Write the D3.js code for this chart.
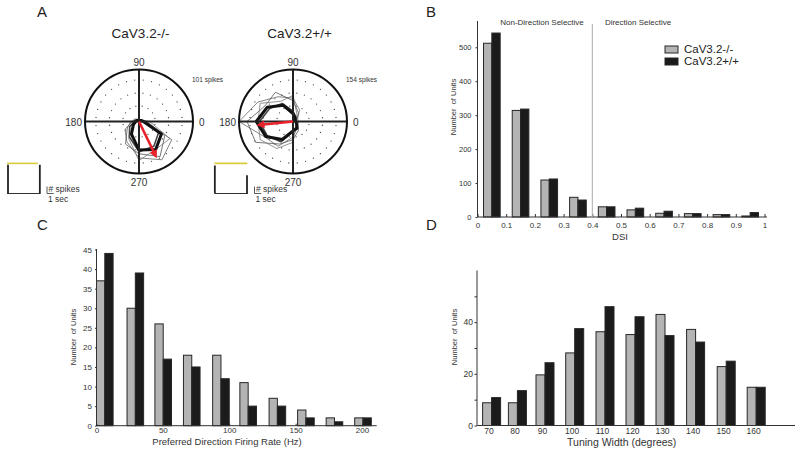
<!DOCTYPE html>
<html><head><meta charset="utf-8">
<script src="https://cdn.jsdelivr.net/npm/d3@7"></script>
<style>
body{margin:0;background:#fff;}
svg{display:block;font-family:"Liberation Sans",Arial,Helvetica,sans-serif;}
</style></head><body>
<svg id="fig" width="800" height="453"></svg>
<script>
// ================= DATA =================
const groups = ["CaV3.2-/-", "CaV3.2+/+"];

// Panel A: polar tuning curves (normalised response at 12 directions)
const directions = [0,30,60,90,120,150,180,210,240,270,300,330];
const spikeMax = [101, 154];
const koThick  = [0.08,0.04,0.02,0.02,0.02,0.04,0.06,0.12,0.28,0.55,0.62,0.48];
const koMedium = [0.10,0.05,0.03,0.03,0.03,0.06,0.08,0.20,0.35,0.58,0.55,0.42];
const koThin1  = [0.12,0.05,0.03,0.03,0.05,0.10,0.12,0.30,0.45,0.70,0.85,0.70];
const koThin2  = [0.15,0.05,0.02,0.02,0.02,0.05,0.15,0.25,0.50,0.62,0.78,0.55];
const koThin3  = [0.20,0.06,0.03,0.03,0.04,0.08,0.10,0.20,0.38,0.75,0.62,0.66];
const wtThick  = [0.05,0.05,0.08,0.15,0.36,0.55,0.68,0.58,0.40,0.18,0.15,0.08];
const wtMedium = [0.06,0.06,0.10,0.20,0.40,0.50,0.62,0.55,0.45,0.20,0.12,0.07];
const wtThin1  = [0.05,0.08,0.25,0.45,0.55,0.75,1.00,0.60,0.55,0.30,0.15,0.08];
const wtThin2  = [0.10,0.10,0.20,0.40,0.65,0.60,0.85,0.80,0.50,0.35,0.20,0.10];
const wtThin3  = [0.05,0.05,0.15,0.50,0.45,0.70,0.65,0.70,0.60,0.40,0.10,0.05];
const vectorAngle = [295, 186];
const vectorMag   = [0.78, 0.68];
const polarLabels = ["0","90","180","270"];

// Panel A insets: PSTH (time in s, counts)
const stimWindow = [[0, 4.6], [0, 4.9]];
const koSpikeTimes = [0.15, 4.9];
const koSpikeCounts = [4.1, 4.1];
const wtSpikeTimes = [0.05, 4.85];
const wtSpikeCounts = [4.0, 2.6];

// Panel B: DSI histogram
const dsiBins = [0,0.1,0.2,0.3,0.4,0.5,0.6,0.7,0.8,0.9];
const dsiKO = [512,314,109,58,30,21,11,10,7,3];
const dsiWT = [542,318,112,50,30,26,17,10,7,13];
const dsiTicks = [0,0.1,0.2,0.3,0.4,0.5,0.6,0.7,0.8,0.9,1];
const dsiYTicks = [0,100,200,300,400,500];
const dsiThreshold = 0.4;

// Panel C: preferred direction firing rate
const rateBinStart = [0,23,44,65.5,87.5,108,130,151.5,173,194.5];
const rateKO = [37,30,26,18,18,11,7,4,2,2];
const rateWT = [44,39,17,15,12,5,5,2,1,2];
const rateXTicks = [0,50,100,150,200];
const rateYTicks = [0,5,10,15,20,25,30,35,40,45];

// Panel D: tuning width
const widthLabels = ["70","80","90","100","110","120","130","140","150","160"];
const widthBinStart = [72.3,80.9,90.1,100,110.1,120.1,130.1,140.3,150.5,160.5];
const widthKO = [8.8,8.8,19.6,28.1,36.3,35.2,43.0,37.2,22.8,14.8];
const widthWT = [10.8,13.5,24.3,37.5,46.0,42.1,34.8,32.3,24.9,14.8];
const widthYTicks = [0,10,20,30,40,50];
const widthYLabelled = [0,20,40];

// ================= STYLE =================
const GRAY = "#b4b4b4", BLACK = "#1b1b1b", EDGE = "#262626", TXT = "#333";
const svg = d3.select("#fig");

// panel letters
[["A",37,17],["B",426,17],["C",37,230],["D",426,230]].forEach(([t,x,y])=>{
  svg.append("text").attr("x",x).attr("y",y).attr("font-size",15).attr("fill","#222").text(t);
});

// ================= PANEL A =================
function polarPlot(idx, cx, cy, curves) {
  const g = svg.append("g").attr("transform",`translate(${cx},${cy})`);
  const rx = d3.scaleLinear().domain([0,1]).range([0,54]);
  const ry = d3.scaleLinear().domain([0,1]).range([0,52]);
  const rad = a => a*Math.PI/180;
  // dotted rings
  [0.3,0.55,0.8].forEach((rr,k)=>{
    const n = [16,24,32][k];
    for (let i=0;i<n;i++){
      const a = 2*Math.PI*(i+0.5)/n;
      g.append("circle").attr("cx",rx(rr)*Math.cos(a)).attr("cy",-ry(rr)*Math.sin(a))
        .attr("r",0.65).attr("fill","#444");
    }
  });
  const line = d3.line()
    .x((d,i)=>rx(d)*Math.cos(rad(directions[i])))
    .y((d,i)=>-ry(d)*Math.sin(rad(directions[i])))
    .curve(d3.curveLinearClosed);
  curves.forEach(c=>{
    g.append("path").attr("d",line(c.v)).attr("fill","none")
      .attr("stroke",c.color).attr("stroke-width",c.w).attr("stroke-linejoin","round");
  });
  // cross lines
  g.append("line").attr("x1",-rx(1)).attr("x2",rx(1)).attr("y1",0).attr("y2",0)
    .attr("stroke","#222").attr("stroke-width",2);
  g.append("line").attr("y1",-ry(1)).attr("y2",ry(1)).attr("x1",0).attr("x2",0)
    .attr("stroke","#222").attr("stroke-width",2);
  g.append("ellipse").attr("rx",rx(1)).attr("ry",ry(1)).attr("fill","none")
    .attr("stroke","#111").attr("stroke-width",2);
  // vector
  const a = rad(vectorAngle[idx]), m = vectorMag[idx];
  const ex = rx(m)*Math.cos(a), ey = -ry(m)*Math.sin(a);
  const L = Math.hypot(ex,ey), ux = ex/L, uy = ey/L;
  g.append("line").attr("x1",0).attr("y1",0).attr("x2",ex-ux*5).attr("y2",ey-uy*5)
    .attr("stroke","#e8212b").attr("stroke-width",2.6);
  const px = -uy, py = ux;
  g.append("path").attr("d",`M${ex},${ey}L${ex-ux*8+px*4},${ey-uy*8+py*4}L${ex-ux*8-px*4},${ey-uy*8-py*4}Z`)
    .attr("fill","#e8212b");
  // direction labels
  const lab = g.append("g").attr("font-size",10).attr("fill","#333");
  lab.append("text").attr("x",rx(1)+6).attr("y",4).text(polarLabels[0]);
  lab.append("text").attr("x",0).attr("y",-ry(1)-4).attr("text-anchor","middle").text(polarLabels[1]);
  lab.append("text").attr("x",-rx(1)-3).attr("y",4).attr("text-anchor","end").text(polarLabels[2]);
  lab.append("text").attr("x",0).attr("y",ry(1)+12).attr("text-anchor","middle").text(polarLabels[3]);
  g.append("text").attr("x",rx(1)-1).attr("y",-ry(1)+12.5).attr("font-size",6.5).attr("fill","#333")
    .text(spikeMax[idx]+" spikes");
}
const mk = (thin1,thin2,thin3,med,thick)=>[
  {v:thin1,color:"#666",w:0.8},{v:thin2,color:"#555",w:0.8},{v:thin3,color:"#777",w:0.8},
  {v:med,color:"#444",w:1.6},{v:thick,color:"#111",w:3}];
polarPlot(0, 139, 121.5, mk(koThin1,koThin2,koThin3,koMedium,koThick));
polarPlot(1, 293, 121.5, mk(wtThin1,wtThin2,wtThin3,wtMedium,wtThick));

// titles
svg.append("text").attr("x",140.5).attr("y",38).attr("text-anchor","middle").attr("font-size",13.5).attr("fill","#222").text(groups[0]);
svg.append("text").attr("x",299.5).attr("y",38).attr("text-anchor","middle").attr("font-size",13.5).attr("fill","#222").text(groups[1]);

// insets
function inset(x0, stim, times, counts) {
  const xs = d3.scaleLinear().domain([0,5]).range([x0, x0+33.5]);
  const ys = d3.scaleLinear().domain([0,4]).range([193.5, 165.5]);
  const g = svg.append("g");
  g.append("line").attr("x1",xs(stim[0])).attr("x2",xs(stim[1])).attr("y1",ys(4.3)).attr("y2",ys(4.3))
    .attr("stroke","#d8cc3a").attr("stroke-width",1.6);
  g.append("line").attr("x1",xs(0)).attr("x2",xs(5)).attr("y1",ys(0)).attr("y2",ys(0))
    .attr("stroke","#333").attr("stroke-width",1.2);
  times.forEach((t,i)=>{
    g.append("line").attr("x1",xs(t)).attr("x2",xs(t)).attr("y1",ys(0)).attr("y2",ys(counts[i]))
      .attr("stroke","#222").attr("stroke-width",1.8);
  });
  // scale bar: 1 sec, 1 count
  const sx = xs(5)+6.5;
  g.append("path").attr("d",`M${sx},${ys(1)}V${ys(0)}H${sx+(xs(1)-xs(0))}`)
    .attr("fill","none").attr("stroke","#333").attr("stroke-width",0.8);
  g.append("text").attr("x",sx+1.5).attr("y",ys(0)-2).attr("font-size",8.5).attr("fill","#333").text("# spikes");
  g.append("text").attr("x",sx+1).attr("y",ys(0)+8.5).attr("font-size",8.5).attr("fill","#333").text("1 sec");
}
inset(7, stimWindow[0], koSpikeTimes, koSpikeCounts);
inset(214.5, stimWindow[1], wtSpikeTimes, wtSpikeCounts);

// ================= helper for axes styling =================
function styleAxis(sel, fs) {
  sel.selectAll("path.domain").attr("stroke","#333").attr("stroke-width",1);
  sel.selectAll(".tick line").attr("stroke","#333");
  sel.selectAll("text").attr("font-size",fs).attr("fill",TXT).attr("font-family",null);
  sel.attr("font-family",null);
}

// ================= PANEL B =================
{
  const x = d3.scaleLinear().domain([0,1]).range([477.5,764.5]);
  const y = d3.scaleLinear().domain([0,500]).range([217,47.3]);
  const g = svg.append("g");
  const bw = x(0.029)-x(0);
  g.selectAll(".bko").data(dsiBins).join("rect")
    .attr("x",d=>x(d+0.021)).attr("width",bw)
    .attr("y",(d,i)=>y(dsiKO[i])).attr("height",(d,i)=>y(0)-y(dsiKO[i]))
    .attr("fill",GRAY).attr("stroke",EDGE).attr("stroke-width",1);
  g.selectAll(".bwt").data(dsiBins).join("rect")
    .attr("x",d=>x(d+0.05)).attr("width",bw)
    .attr("y",(d,i)=>y(dsiWT[i])).attr("height",(d,i)=>y(0)-y(dsiWT[i]))
    .attr("fill",BLACK).attr("stroke",EDGE).attr("stroke-width",1);
  const xa = g.append("g").attr("transform","translate(0,217)")
    .call(d3.axisBottom(x).tickValues(dsiTicks).tickFormat(d3.format("~g")).tickSizeInner(-3).tickSizeOuter(0).tickPadding(5));
  xa.select("path.domain").attr("d","M477.5,0H767");
  styleAxis(xa, 8);
  const ya = g.append("g").attr("transform","translate(477.5,0)")
    .call(d3.axisLeft(y).tickValues(dsiYTicks).tickSize(2).tickPadding(4));
  ya.select("path.domain").attr("d","M0,21V217");
  styleAxis(ya, 7.5);
  g.append("line").attr("x1",x(dsiThreshold)).attr("x2",x(dsiThreshold)).attr("y1",24).attr("y2",217)
    .attr("stroke","#aaa").attr("stroke-width",1);
  g.append("text").attr("x",542).attr("y",25).attr("text-anchor","middle").attr("font-size",8).attr("fill",TXT).text("Non-Direction Selective");
  g.append("text").attr("x",638).attr("y",25).attr("text-anchor","middle").attr("font-size",8).attr("fill",TXT).text("Direction Selective");
  g.append("text").attr("transform","translate(456,107) rotate(-90)").attr("text-anchor","middle")
    .attr("font-size",7.5).attr("fill",TXT).text("Number  of Units").style("white-space","pre");
  g.append("text").attr("x",620).attr("y",240).attr("text-anchor","middle").attr("font-size",9.5).attr("fill",TXT).text("DSI");
  // legend
  [[GRAY,53],[BLACK,65]].forEach(([c,yy],i)=>{
    g.append("rect").attr("x",665).attr("y",yy-7).attr("width",13).attr("height",7)
      .attr("fill",c).attr("stroke",EDGE).attr("stroke-width",1);
    g.append("text").attr("x",684).attr("y",yy).attr("font-size",11.5).attr("fill","#222").text(groups[i]);
  });
}

// ================= PANEL C =================
{
  const x = d3.scaleLinear().domain([0,200]).range([96.5,362]);
  const y = d3.scaleLinear().domain([0,45]).range([425.7,249.5]);
  const g = svg.append("g");
  const bw = 8.3;
  g.selectAll(".cko").data(rateBinStart).join("rect")
    .attr("x",d=>x(d)).attr("width",bw)
    .attr("y",(d,i)=>y(rateKO[i])).attr("height",(d,i)=>y(0)-y(rateKO[i]))
    .attr("fill",GRAY).attr("stroke",EDGE).attr("stroke-width",1);
  g.selectAll(".cwt").data(rateBinStart).join("rect")
    .attr("x",d=>x(d)+bw).attr("width",bw)
    .attr("y",(d,i)=>y(rateWT[i])).attr("height",(d,i)=>y(0)-y(rateWT[i]))
    .attr("fill",BLACK).attr("stroke",EDGE).attr("stroke-width",1);
  const xa = g.append("g").attr("transform","translate(0,425.7)")
    .call(d3.axisBottom(x).tickValues(rateXTicks).tickSizeInner(-2).tickSizeOuter(0).tickPadding(2));
  xa.select("path.domain").attr("d","M96.5,0H376.7");
  styleAxis(xa, 8);
  const ya = g.append("g").attr("transform","translate(96.5,0)")
    .call(d3.axisLeft(y).tickValues(rateYTicks).tickSize(1.5).tickPadding(3));
  ya.select("path.domain").attr("d","M0,249V425.7");
  styleAxis(ya, 8);
  g.append("text").attr("transform","translate(76,337) rotate(-90)").attr("text-anchor","middle")
    .attr("font-size",7.5).attr("fill",TXT).text("Number  of Units").style("white-space","pre");
  g.append("text").attr("x",227).attr("y",445).attr("text-anchor","middle").attr("font-size",9.5).attr("fill",TXT)
    .text("Preferred Direction Firing Rate (Hz)");
}

// ================= PANEL D =================
{
  const x = d3.scaleLinear().domain([100,200]).range([565.7,865.7]);
  const y = d3.scaleLinear().domain([0,60]).range([425.5,270.5]);
  const g = svg.append("g");
  const bw = 9;
  g.selectAll(".dko").data(widthBinStart).join("rect")
    .attr("x",d=>x(d)).attr("width",bw)
    .attr("y",(d,i)=>y(widthKO[i])).attr("height",(d,i)=>y(0)-y(widthKO[i]))
    .attr("fill",GRAY).attr("stroke",EDGE).attr("stroke-width",1);
  g.selectAll(".dwt").data(widthBinStart).join("rect")
    .attr("x",d=>x(d)+bw).attr("width",bw)
    .attr("y",(d,i)=>y(widthWT[i])).attr("height",(d,i)=>y(0)-y(widthWT[i]))
    .attr("fill",BLACK).attr("stroke",EDGE).attr("stroke-width",1);
  const xa = g.append("g").attr("transform","translate(0,425.5)")
    .call(d3.axisBottom(x).tickValues(widthBinStart).tickFormat((d,i)=>widthLabels[i]).tickSize(0).tickPadding(2.5));
  xa.select("path.domain").attr("d","M477,0H795");
  xa.selectAll("text").attr("dx",6);
  styleAxis(xa, 8.5);
  const ya = g.append("g").attr("transform","translate(477,0)")
    .call(d3.axisLeft(y).tickValues(widthYTicks).tickFormat(d=>widthYLabelled.includes(d)?d:"").tickSize(2.5).tickPadding(1.5));
  ya.select("path.domain").attr("d","M0,270.5V425.5");
  styleAxis(ya, 8.5);
  g.append("text").attr("transform","translate(457,337) rotate(-90)").attr("text-anchor","middle")
    .attr("font-size",7.5).attr("fill",TXT).text("Number  of Units").style("white-space","pre");
  g.append("text").attr("x",621.7).attr("y",446).attr("text-anchor","middle").attr("font-size",10.5).attr("fill",TXT)
    .text("Tuning Width (degrees)");
}
</script>
</body></html>
